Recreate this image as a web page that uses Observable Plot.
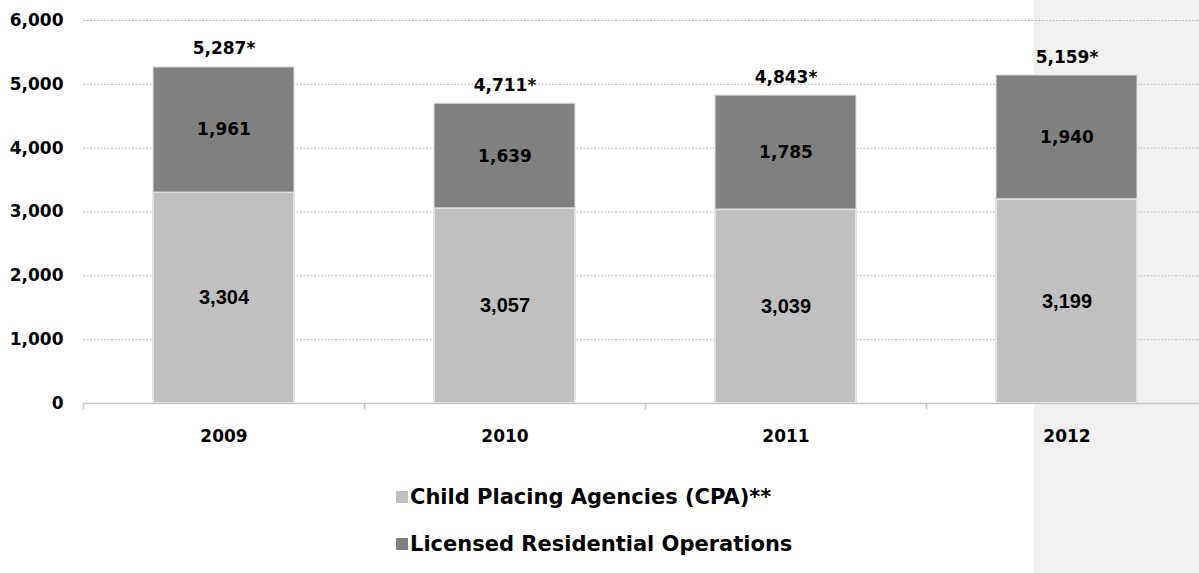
<!DOCTYPE html>
<html>
<head>
<meta charset="utf-8">
<script src="https://cdn.jsdelivr.net/npm/d3@7"></script>
<script src="https://cdn.jsdelivr.net/npm/@observablehq/plot@0.6"></script>
<style>
  body { margin: 0; background: #fff; }
  #wrap { position: relative; width: 1199px; height: 573px; overflow: hidden; }
  #panel { position: absolute; left: 1034px; top: 0; width: 165px; height: 573px; background: #f0f0f0; }
  #chart { position: absolute; left: 0; top: 0; }
  #chart svg { background: transparent; }
  .leg { position: absolute; left: 396px; font-family: "DejaVu Sans", sans-serif; font-weight: bold; font-size: 21px; color: #000; display: flex; align-items: center; white-space: nowrap; }
  .sw { width: 12px; height: 12px; margin-right: 2px; }
</style>
</head>
<body>
<div id="wrap">
  <div id="panel"></div>
  <div id="chart"></div>
</div>
<script>
const years = ["2009", "2010", "2011", "2012"];
const cpa = [3304, 3057, 3039, 3199];
const licensed = [1961, 1639, 1785, 1940];
const totals = [5287, 4711, 4843, 5159];
const totalLabels = ["5,287*", "4,711*", "4,843*", "5,159*"];
const yTicks = [0, 1000, 2000, 3000, 4000, 5000, 6000];
const seriesNames = ["Child Placing Agencies (CPA)**", "Licensed Residential Operations"];
const colors = ["#c0c0c0", "#808080"];

const rows = years.map((y, i) => ({year: y, cpa: cpa[i], lic: licensed[i], total: totals[i], label: totalLabels[i]}));
const fmt = d3.format(",");

const chart = Plot.plot({
  width: 1199,
  height: 460,
  marginTop: 20,
  marginBottom: 57,
  marginLeft: 83,
  marginRight: 0,
  x: {domain: years, range: [83, 1207], paddingInner: 0.5, paddingOuter: 0.25, label: null, axis: null},
  y: {domain: [0, 6000], label: null, axis: null},
  marks: [
    Plot.ruleY(yTicks.filter(d => d > 0), {y: d => d, stroke: "#bdbdbd", strokeDasharray: "2,1.5", strokeWidth: 1}),
    Plot.barY(rows, {x: "year", y1: 0, y2: "cpa", fill: colors[0], stroke: "#e4e4e4", strokeWidth: 2}),
    Plot.barY(rows, {x: "year", y1: "cpa", y2: d => d.cpa + d.lic, fill: colors[1], stroke: "#e0e0e0", strokeWidth: 1}),
    Plot.ruleY([0], {stroke: "#c8c8c8", strokeWidth: 1.5}),
    Plot.ruleX(rows, {x: "year", dx: -140.5, y1: 0, y2: -100, stroke: "#c8c8c8", strokeWidth: 1.5}),
    Plot.text(rows, {x: "year", y: d => d.cpa / 2, text: d => fmt(d.cpa), fontFamily: "Liberation Sans, Arial, sans-serif", fontWeight: "bold", fontSize: 20, fill: "#000"}),
    Plot.text(rows, {x: "year", y: d => d.cpa + d.lic / 2, text: d => fmt(d.lic), fontFamily: "DejaVu Sans, sans-serif", fontWeight: "bold", fontSize: 17, fill: "#000"}),
    Plot.text(rows, {x: "year", y: "total", dy: -17, text: "label", fontFamily: "DejaVu Sans, sans-serif", fontWeight: "bold", fontSize: 17, fill: "#000"}),
    Plot.axisY(yTicks, {tickSize: 0, tickPadding: 0, dx: -20, tickFormat: d => fmt(d), fontFamily: "DejaVu Sans, sans-serif", fontWeight: "bold", fontSize: 17, fill: "#000", textAnchor: "end"}),
    Plot.axisX(years, {tickSize: 0, tickPadding: 26, fontFamily: "DejaVu Sans, sans-serif", fontWeight: "bold", fontSize: 17, fill: "#000"})
  ]
});
document.getElementById("chart").appendChild(chart);

const wrap = document.getElementById("wrap");
const legTops = [485, 532];
seriesNames.forEach((name, i) => {
  const d = document.createElement("div");
  d.className = "leg";
  d.style.top = legTops[i] + "px";
  const sw = document.createElement("span");
  sw.className = "sw";
  sw.style.background = colors[i];
  d.appendChild(sw);
  const t = document.createElement("span");
  t.textContent = name;
  d.appendChild(t);
  wrap.appendChild(d);
});
</script>
</body>
</html>
